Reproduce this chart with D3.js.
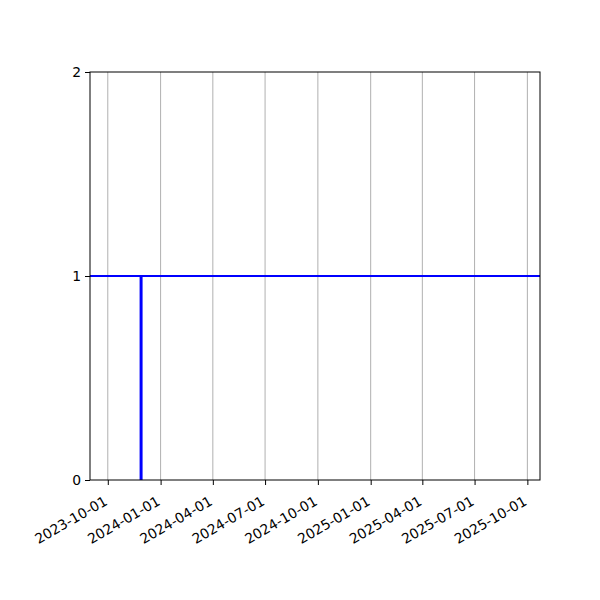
<!DOCTYPE html>
<html>
<head>
  <meta charset="utf-8">
  <title>Step chart</title>
  <script src="https://d3js.org/d3.v7.min.js"></script>
  <style>
    body {
      margin: 0;
      padding: 0;
      background-color: white;
    }
    text {
      font-family: "DejaVu Sans", sans-serif;
      font-size: 13.9px;
      fill: black;
    }
  </style>
</head>
<body>
  <div id="chart"></div>
  <script>
    // data
    var xDomain = ["2023-08-31", "2025-10-23"];
    var xTickDates = ["2023-10-01", "2024-01-01", "2024-04-01", "2024-07-01", "2024-10-01",
                      "2025-01-01", "2025-04-01", "2025-07-01", "2025-10-01"];
    var yTicks = [0, 1, 2];
    // horizontal level line
    var levelDates = ["2023-08-31", "2025-10-23"];
    var levelValues = [1, 1];
    // vertical jump
    var jumpDates = ["2023-11-28", "2023-11-28"];
    var jumpValues = [0, 1];

    var width = 600, height = 600;
    var plotLeft = 90, plotRight = 540, plotTop = 72, plotBottom = 480;
    var parse = d3.timeParse("%Y-%m-%d");

    var svg = d3.select("#chart")
      .append("svg")
        .attr("width", width)
        .attr("height", height);

    var x = d3.scaleTime()
        .domain(xDomain.map(parse))
        .range([plotLeft, plotRight]);

    var y = d3.scaleLinear()
        .domain([0, 2])
        .range([plotBottom, plotTop]);

    // vertical grid lines
    svg.append("g")
      .selectAll("line")
      .data(xTickDates.map(parse))
      .enter().append("line")
        .attr("x1", function(d) { return x(d); })
        .attr("x2", function(d) { return x(d); })
        .attr("y1", plotTop)
        .attr("y2", plotBottom)
        .attr("stroke", "#b0b0b0")
        .attr("stroke-width", 1);

    var line = d3.line()
        .x(function(d) { return x(d[0]); })
        .y(function(d) { return y(d[1]); });

    svg.append("path")
        .datum(levelDates.map(function(d, i) { return [parse(d), levelValues[i]]; }))
        .attr("d", line)
        .attr("fill", "none")
        .attr("stroke", "#0000ff")
        .attr("stroke-width", 2);

    svg.append("path")
        .datum(jumpDates.map(function(d, i) { return [parse(d), jumpValues[i]]; }))
        .attr("d", line)
        .attr("fill", "none")
        .attr("stroke", "#0000ff")
        .attr("stroke-width", 3);

    // x axis
    var xAxis = svg.append("g")
        .attr("transform", "translate(0," + plotBottom + ")")
        .call(d3.axisBottom(x)
          .tickValues(xTickDates.map(parse))
          .tickFormat(d3.timeFormat("%Y-%m-%d"))
          .tickSizeOuter(0)
          .tickSize(5));
    xAxis.select(".domain").remove();
    xAxis.selectAll("text")
        .attr("text-anchor", "end")
        .attr("y", 0)
        .attr("dy", 0)
        .attr("transform", "translate(0,24) rotate(-30)")
        .attr("font-size", null)
        .attr("font-family", null);

    // y axis
    var yAxis = svg.append("g")
        .attr("transform", "translate(" + plotLeft + ",0)")
        .call(d3.axisLeft(y)
          .tickValues(yTicks)
          .tickFormat(d3.format("d"))
          .tickSizeOuter(0)
          .tickSize(5)
          .tickPadding(4));
    yAxis.select(".domain").remove();
    yAxis.selectAll("text")
        .attr("font-size", null)
        .attr("font-family", null);

    // frame
    svg.append("rect")
        .attr("x", plotLeft)
        .attr("y", plotTop)
        .attr("width", plotRight - plotLeft)
        .attr("height", plotBottom - plotTop)
        .attr("fill", "none")
        .attr("stroke", "black")
        .attr("stroke-width", 1);
  </script>
</body>
</html>
